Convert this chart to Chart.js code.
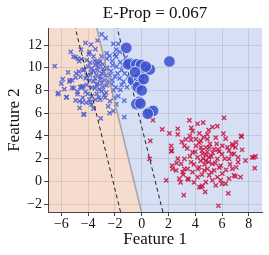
<!DOCTYPE html>
<html>
<head>
<meta charset="utf-8">
<script src="https://cdn.jsdelivr.net/npm/chart.js@4/dist/chart.umd.min.js"></script>
<style>
html,body{margin:0;padding:0;background:#fff;}
#wrap{width:269px;height:255px;}
</style>
</head>
<body>
<div id="wrap"><canvas id="c" width="269" height="255"></canvas></div>
<script>
const titleText = 'E-Prop = 0.067';
const xLabel = 'Feature 1';
const yLabel = 'Feature 2';
const xTicks = [-6, -4, -2, 0, 2, 4, 6, 8];
const yTicks = [-2, 0, 2, 4, 6, 8, 10, 12];
const xRange = [-7, 9];
const yRange = [-2.7, 13.5];

const boundary = [[-0.02, -2.7], [-3.36, 13.5]];
const marginLeft = [[-1.58, -2.7], [-4.96, 13.5]];
const marginRight = [[1.58, -2.7], [-1.83, 13.5]];

const bigCircles = [
[-1.15,11.75],[-0.9,10.4],[-1.0,10.3],[-0.4,10.3],[-0.05,10.25],[0.1,9.5],[0.6,9.85],[0.3,10.1],
[2.07,10.55],[-0.65,8.9],[-0.2,9.1],[-0.15,8.55],[-0.3,8.3],[0.0,8.0],[-0.2,7.0],[-0.4,6.8],
[-0.1,6.85],[0.6,6.1],[0.85,6.2],[0.45,5.95],[-0.5,9.6],[0.15,9.0]
];

const blueX = [
[-2.99,12.93],[-3.78,12.03],[-3.9,11.4],[-4.54,11.6],[-1.75,12.1],[-2.12,12.1],[-1.63,11.4],[-2.62,11.26],
[-2.0,11.17],[-1.9,10.97],[-2.4,11.04],[-5.1,10.98],[-4.94,10.93],[-4.77,10.81],[-4.67,10.58],[-4.1,10.67],
[-3.85,10.46],[-3.36,10.52],[-3.1,10.58],[-3.47,10.23],[-3.23,10.1],[-3.73,9.94],[-4.0,10.1],[-4.4,9.8],
[-4.7,9.65],[-6.5,10.15],[-2.85,9.65],[-2.62,9.94],[-2.17,10.23],[-1.88,10.1],[-1.5,9.8],[-1.27,9.5],
[-2.4,9.36],[-2.0,9.22],[-1.65,9.07],[-1.36,8.78],[-3.1,9.22],[-3.47,9.07],[-3.85,9.36],[-4.2,9.07],
[-4.57,9.22],[-4.94,9.13],[-5.2,8.9],[-5.4,8.78],[-5.78,8.12],[-5.63,7.4],[-6.22,7.77],[-5.07,8.2],
[-4.8,7.9],[-4.47,8.35],[-4.1,8.5],[-3.73,8.27],[-3.36,8.5],[-2.99,8.64],[-2.62,8.44],[-2.25,8.55],
[-1.94,8.27],[-1.6,8.06],[-2.12,8.0],[-2.66,7.8],[-2.99,7.94],[-3.36,7.7],[-3.73,7.5],[-4.03,7.7],
[-4.4,7.36],[-4.64,7.07],[-4.94,7.13],[-4.13,6.93],[-3.85,6.93],[-4.64,6.46],[-4.35,5.9],[-3.47,7.2],
[-3.1,7.2],[-2.73,7.36],[-2.37,7.07],[-2.05,7.36],[-1.75,7.5],[-1.3,7.1],[-2.4,6.0],[-2.12,6.2],
[-1.3,5.65],[-3.06,5.54],[-3.46,11.65],[-3.95,11.2],[-4.5,10.75],[-4.3,9.83],[-5.36,8.9],[-4.6,8.3],
[-4.37,8.37],[-6.27,7.68],[-5.6,7.42],[-5.2,8.26],[-4.5,8.26],[-4.8,7.68],[-4.44,6.98],[-3.75,6.75],
[-4.3,5.89],[-3.5,10.6],[-3.2,10.4],[-2.9,10.3],[-3.6,9.7],[-3.3,9.8],[-3.0,9.5],[-2.7,9.3],
[-3.4,9.4],[-3.1,9.0],[-2.8,8.9],[-3.6,8.8],[-3.3,8.6],[-2.9,8.3],[-3.5,8.2],[-3.2,8.1],
[-2.6,10.0],[-2.3,9.7],[-2.9,9.9],[-3.8,9.6],[-3.9,8.9],[-4.1,9.3],[-2.5,8.8],[-2.2,8.9],
[-1.8,9.5],[-1.6,10.5],[-1.4,10.2],[-2.2,10.6],[-2.6,10.8],[-3.0,11.0],[-3.6,11.0],[-1.2,10.9],
[-1.0,9.2],[-1.1,8.3],[-2.8,7.6],[-3.2,7.4],[-2.5,6.6],[-3.6,6.4],[-1.9,6.8],[-4.9,9.5],
[-5.5,9.6],[-5.9,9.0],[-6.0,8.6],[-5.3,11.4],[-4.2,12.2],[-3.3,12.4],[-2.7,12.6],[-1.9,11.6],
[-1.5,8.5],[-3.9,7.2],[-4.2,7.9]
];

const redX = [
[0.84,5.39],[3.56,5.36],[4.17,5.07],[4.59,5.16],[6.15,5.59],[5.28,4.78],[5.65,4.87],[1.53,4.58],
[2.69,4.63],[3.7,4.7],[2.07,4.23],[2.69,4.14],[3.8,4.43],[4.3,4.23],[4.9,4.14],[0.64,3.56],
[2.2,3.13],[2.25,2.7],[3.0,3.48],[3.19,3.13],[3.68,3.65],[4.05,3.71],[4.42,3.56],[4.91,3.71],
[5.53,3.85],[6.27,3.77],[6.76,3.28],[7.46,3.94],[7.06,3.42],[0.59,1.97],[1.83,0.09],[2.27,1.39],
[2.57,0.96],[2.81,0.23],[3.06,0.81],[3.14,-1.22],[3.43,0.23],[3.19,1.97],[3.68,1.68],[3.8,2.55],
[4.17,2.11],[4.54,2.41],[4.79,1.83],[4.3,1.24],[4.91,1.1],[5.28,1.54],[5.65,1.97],[5.78,2.61],
[5.41,2.84],[5.04,2.98],[4.42,2.98],[4.05,3.13],[6.02,3.13],[6.52,2.7],[6.89,2.41],[7.5,2.78],
[7.75,1.83],[8.25,2.11],[8.5,2.2],[8.44,1.16],[6.52,1.97],[6.76,1.1],[7.06,1.24],[6.89,0.52],
[7.38,0.37],[6.52,0.23],[6.02,0.67],[6.27,-0.2],[6.47,-1.07],[5.65,0.37],[5.53,-0.35],[5.28,0.09],
[4.79,-0.06],[4.3,-0.5],[4.54,-0.4],[4.74,-0.93],[4.17,0.37],[3.8,0.81],[3.43,1.1],[5.73,-2.15],
[5.04,0.52],[5.04,2.11],[4.67,0.96],[5.41,0.96],[5.9,1.39],[3.19,1.1],[2.94,1.54],[7.43,4.0],
[6.8,3.13],[8.37,2.11],[6.7,2.4],[6.0,-0.23],[7.0,0.43],[2.3,1.1],[2.9,-0.1],[3.1,0.6],
[3.5,0.15],[4.44,-0.5],[2.2,2.64],[4.6,2.0],[4.8,2.3],[5.0,1.7],[5.2,2.2],[4.4,1.8],
[4.9,2.6],[5.3,2.5],[4.7,1.5],[5.5,1.6],[4.5,2.7],[5.1,3.3],[4.3,3.4],[3.9,1.5],
[5.8,1.2],[6.2,2.0],[6.0,2.4],[4.0,2.6],[3.6,2.2],[3.4,2.9],[5.6,3.3],[6.4,3.0],
[5.2,0.8],[4.5,0.6],[3.9,-0.1],[5.9,0.1],[6.6,1.5],[7.2,2.1],[4.2,1.1],[4.8,3.0],
[5.7,2.8],[3.3,3.7],[2.7,2.0],[2.6,1.6],[7.2,1.7],[6.1,4.2],[5.0,4.5],[4.6,3.9],
[3.6,4.0],[7.0,3.0],[6.3,1.0]
];

const toPts = a => a.map(p => ({x: p[0], y: p[1]}));
const serif = "'Liberation Serif', 'DejaVu Serif', serif";
const fmt = v => (v < 0 ? '\u2212' + Math.abs(v) : String(v));

const regionPlugin = {
  id: 'regions',
  beforeDraw(chart) {
    const {ctx, chartArea, scales} = chart;
    const xs = scales.x, ys = scales.y;
    const px = v => xs.getPixelForValue(v), py = v => ys.getPixelForValue(v);
    ctx.save();
    ctx.beginPath();
    ctx.rect(chartArea.left, chartArea.top, chartArea.width, chartArea.height);
    ctx.clip();
    ctx.fillStyle = '#f6dbcf';
    ctx.beginPath();
    ctx.moveTo(px(xRange[0]), py(yRange[0]));
    ctx.lineTo(px(xRange[0]), py(yRange[1]));
    ctx.lineTo(px(boundary[1][0]), py(boundary[1][1]));
    ctx.lineTo(px(boundary[0][0]), py(boundary[0][1]));
    ctx.closePath();
    ctx.fill();
    ctx.fillStyle = '#d7dff5';
    ctx.beginPath();
    ctx.moveTo(px(xRange[1]), py(yRange[0]));
    ctx.lineTo(px(xRange[1]), py(yRange[1]));
    ctx.lineTo(px(boundary[1][0]), py(boundary[1][1]));
    ctx.lineTo(px(boundary[0][0]), py(boundary[0][1]));
    ctx.closePath();
    ctx.fill();
    ctx.restore();
  }
};

new Chart(document.getElementById('c'), {
  type: 'scatter',
  data: {
    datasets: [
      {
        label: 'support',
        data: toPts(bigCircles),
        pointStyle: 'circle',
        pointRadius: 5.8,
        backgroundColor: 'rgba(62,84,206,0.88)',
        borderColor: 'rgba(225,230,250,0.85)',
        borderWidth: 1,
        order: 0
      },
      {
        label: 'boundary',
        data: toPts(boundary),
        showLine: true,
        pointRadius: 0,
        borderColor: 'rgba(160,160,160,0.95)',
        borderWidth: 1.5,
        order: 1
      },
      {
        label: 'marginL',
        data: toPts(marginLeft),
        showLine: true,
        pointRadius: 0,
        borderColor: '#222',
        borderWidth: 1,
        borderDash: [4, 3],
        order: 1
      },
      {
        label: 'marginR',
        data: toPts(marginRight),
        showLine: true,
        pointRadius: 0,
        borderColor: '#222',
        borderWidth: 1,
        borderDash: [4, 3],
        order: 1
      },
      {
        label: 'class 0',
        data: toPts(blueX),
        pointStyle: 'crossRot',
        pointRadius: 3,
        borderColor: 'rgba(70,92,212,0.85)',
        backgroundColor: 'rgba(70,92,212,0.85)',
        borderWidth: 1.4,
        order: 2
      },
      {
        label: 'class 1',
        data: toPts(redX),
        pointStyle: 'crossRot',
        pointRadius: 3,
        borderColor: 'rgba(200,16,60,0.85)',
        backgroundColor: 'rgba(200,16,60,0.85)',
        borderWidth: 1.4,
        order: 2
      }
    ]
  },
  options: {
    responsive: false,
    animation: false,
    events: [],
    layout: {padding: {left: 0, right: 6, top: 0, bottom: 0}},
    plugins: {
      legend: {display: false},
      tooltip: {enabled: false},
      title: {
        display: true,
        text: titleText,
        fullSize: false,
        color: '#111',
        font: {family: serif, size: 17, weight: 'normal'},
        padding: {top: 3, bottom: 4.6}
      }
    },
    scales: {
      x: {
        type: 'linear',
        min: xRange[0], max: xRange[1],
        afterBuildTicks: s => { s.ticks = xTicks.map(v => ({value: v})); },
        afterFit: s => { s.height = 43; },
        grid: {color: 'rgba(0,0,0,0.09)', lineWidth: 1, drawTicks: true, tickLength: 4, tickColor: '#444'},
        border: {display: true, color: '#444', width: 1},
        ticks: {color: '#111', font: {family: serif, size: 14}, padding: 0, maxRotation: 0, callback: v => fmt(v)},
        title: {display: true, text: xLabel, color: '#111', font: {family: serif, size: 17}, padding: {top: 0, bottom: 4.8}}
      },
      y: {
        type: 'linear',
        min: yRange[0], max: yRange[1],
        afterBuildTicks: s => { s.ticks = yTicks.map(v => ({value: v})); },
        afterFit: s => { s.width = 48; },
        grid: {color: 'rgba(0,0,0,0.09)', lineWidth: 1, drawTicks: true, tickLength: 4, tickColor: '#444'},
        border: {display: true, color: '#444', width: 1},
        ticks: {color: '#111', font: {family: serif, size: 14}, padding: 2, callback: v => fmt(v)},
        title: {display: true, text: yLabel, color: '#111', font: {family: serif, size: 17}, padding: {top: 4.8, bottom: 0}}
      }
    }
  },
  plugins: [regionPlugin]
});
</script>
</body>
</html>
